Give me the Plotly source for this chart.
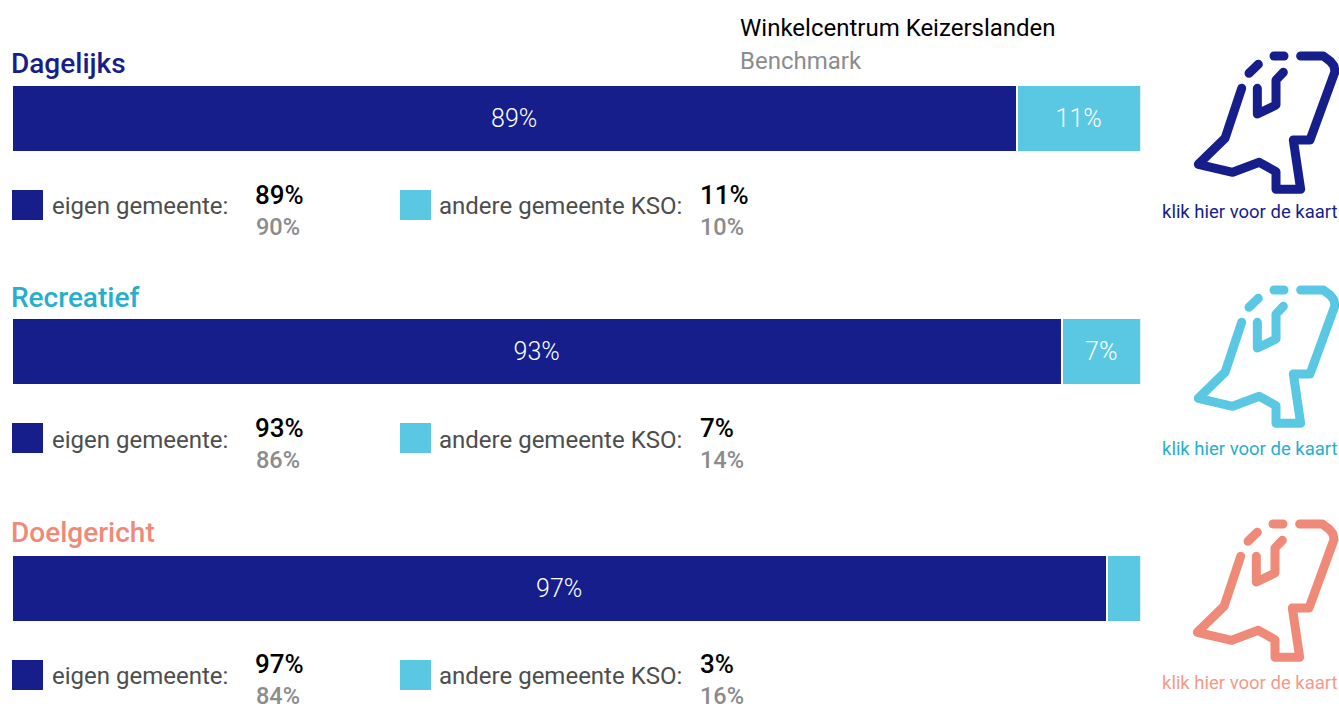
import plotly.graph_objects as go

W, H = 1339, 706
categories = ["Dagelijks", "Recreatief", "Doelgericht"]
eigen = [89, 93, 97]
andere = [11, 7, 3]
bench_eigen = [90, 86, 84]
bench_andere = [10, 14, 16]
eigen_labels = ["89%", "93%", "97%"]
andere_labels = ["11%", "7%", ""]
legend_eigen = "eigen gemeente:"
legend_andere = "andere gemeente KSO:"
map_link = "klik hier voor de kaart"
header_main = "Winkelcentrum Keizerslanden"
header_bench = "Benchmark"

NAVY = "#151e8b"
LIGHT = "#5ac8e3"
title_colors = [NAVY, "#26aecd", "#f08a78"]
icon_colors = [NAVY, LIGHT, "#f08a78"]
link_colors = [NAVY, "#26aecd", "#f5998a"]
FONT = "Roboto"

bar_tops = [85, 318, 555]
bar_bottoms = [152, 385, 622]
title_y = [63.6, 297.6, 532.6]
label_y = [206, 439.5, 676]
val_y = [195.2, 428.2, 664.2]
bench_y = [227, 460, 696]
swatch_tops = [190, 423, 660]
link_y = [212, 449, 683]
icon_offset = [(1140, 30), (1140, 264), (1139, 498)]

ICON_PARTS = [
    [(305,175),(255,325),(175,403),(278,427),(358,397),(408,425),(408,478),(482,478),(460,330),(510,330),(585,125),(582,108),(572,95),(550,78),(482,78)],
    [(352,175),(352,252),(408,225),(408,150),(430,127)],
    [(327,130),(355,103)],
    [(402,78),(432,78)],
]

def px(x):
    return x / W
def py(y):
    return 1 - y / H

fig = go.Figure()
layout = dict(
    width=W, height=H, margin=dict(l=0, r=0, t=0, b=0, pad=0),
    paper_bgcolor="white", plot_bgcolor="rgba(0,0,0,0)", barmode="stack", bargap=0,
    showlegend=False, font=dict(family=FONT),
    xaxis=dict(domain=[px(11.7), px(1140.7)], range=[0, 100], visible=False, fixedrange=True),
)
annotations, shapes = [], []

def note(x, y, text, size, color, weight=400, anchor="left"):
    annotations.append(dict(xref="paper", yref="paper", x=px(x), y=py(y), text=text,
                            showarrow=False, xanchor=anchor, yanchor="middle", borderpad=0,
                            font=dict(family=FONT, size=size, color=color, weight=weight)))

for i, cat in enumerate(categories):
    ax = "y" if i == 0 else f"y{i+1}"
    layout["yaxis" if i == 0 else f"yaxis{i+1}"] = dict(
        domain=[py(bar_bottoms[i]), py(bar_tops[i])], visible=False, fixedrange=True,
        anchor="x", range=[-0.5, 0.5])
    for vals, col, labels in ((eigen, NAVY, eigen_labels), (andere, LIGHT, andere_labels)):
        fig.add_trace(go.Bar(
            x=[vals[i]], y=[0], yaxis=ax, xaxis="x", orientation="h", width=1,
            marker=dict(color=col, line=dict(color="white", width=2)),
            text=[labels[i]], textposition="inside", insidetextanchor="middle",
            constraintext="none", cliponaxis=False,
            textfont=dict(family=FONT, size=25, color="#ffffff", weight=300),
            hoverinfo="skip"))

    note(10, title_y[i], cat, 28, title_colors[i], 500)
    note(50.5, label_y[i], legend_eigen, 24, "#4d4d4d")
    note(437.5, label_y[i], legend_andere, 24, "#4d4d4d")
    note(254, val_y[i], f"{eigen[i]}%", 26, "#000000", 500)
    note(254.5, bench_y[i], f"{bench_eigen[i]}%", 23.5, "#8c8c8c", 500)
    note(699, val_y[i], f"{andere[i]}%", 26, "#000000", 500)
    note(699.5, bench_y[i], f"{bench_andere[i]}%", 23.5, "#8c8c8c", 500)
    note(1338.5, link_y[i], map_link, 18.5, link_colors[i], 400, "right")

    for x0, col in ((12, NAVY), (400, LIGHT)):
        shapes.append(dict(type="rect", xref="paper", yref="paper", layer="above",
                           x0=px(x0), x1=px(x0 + 31), y0=py(swatch_tops[i] + 30), y1=py(swatch_tops[i]),
                           fillcolor=col, line=dict(width=0)))

    ox, oy = icon_offset[i]
    for part in ICON_PARTS:
        fig.add_trace(go.Scatter(
            x=[(ox + p[0] / 3) / W for p in part], y=[1 - (oy + p[1] / 3) / H for p in part],
            xaxis="x9", yaxis="y9", mode="lines", hoverinfo="skip",
            line=dict(color=icon_colors[i], width=9, shape="linear")))

layout["xaxis9"] = dict(domain=[0, 1], range=[0, 1], visible=False, fixedrange=True, anchor="y9")
layout["yaxis9"] = dict(domain=[0, 1], range=[0, 1], visible=False, fixedrange=True, anchor="x9")

note(739, 28, header_main, 24, "#000000")
note(739, 61, header_bench, 24, "#8c8c8c")

layout["annotations"] = annotations
layout["shapes"] = shapes
fig.update_layout(**layout)
fig.write_html("out.html", config={"displayModeBar": False},
               post_script="document.body.style.margin='0';document.body.style.overflow='hidden';"
                           "document.querySelectorAll('.scatterlayer .js-line').forEach(function(p){"
                           "p.style.strokeLinecap='round';p.style.strokeLinejoin='round';});")
